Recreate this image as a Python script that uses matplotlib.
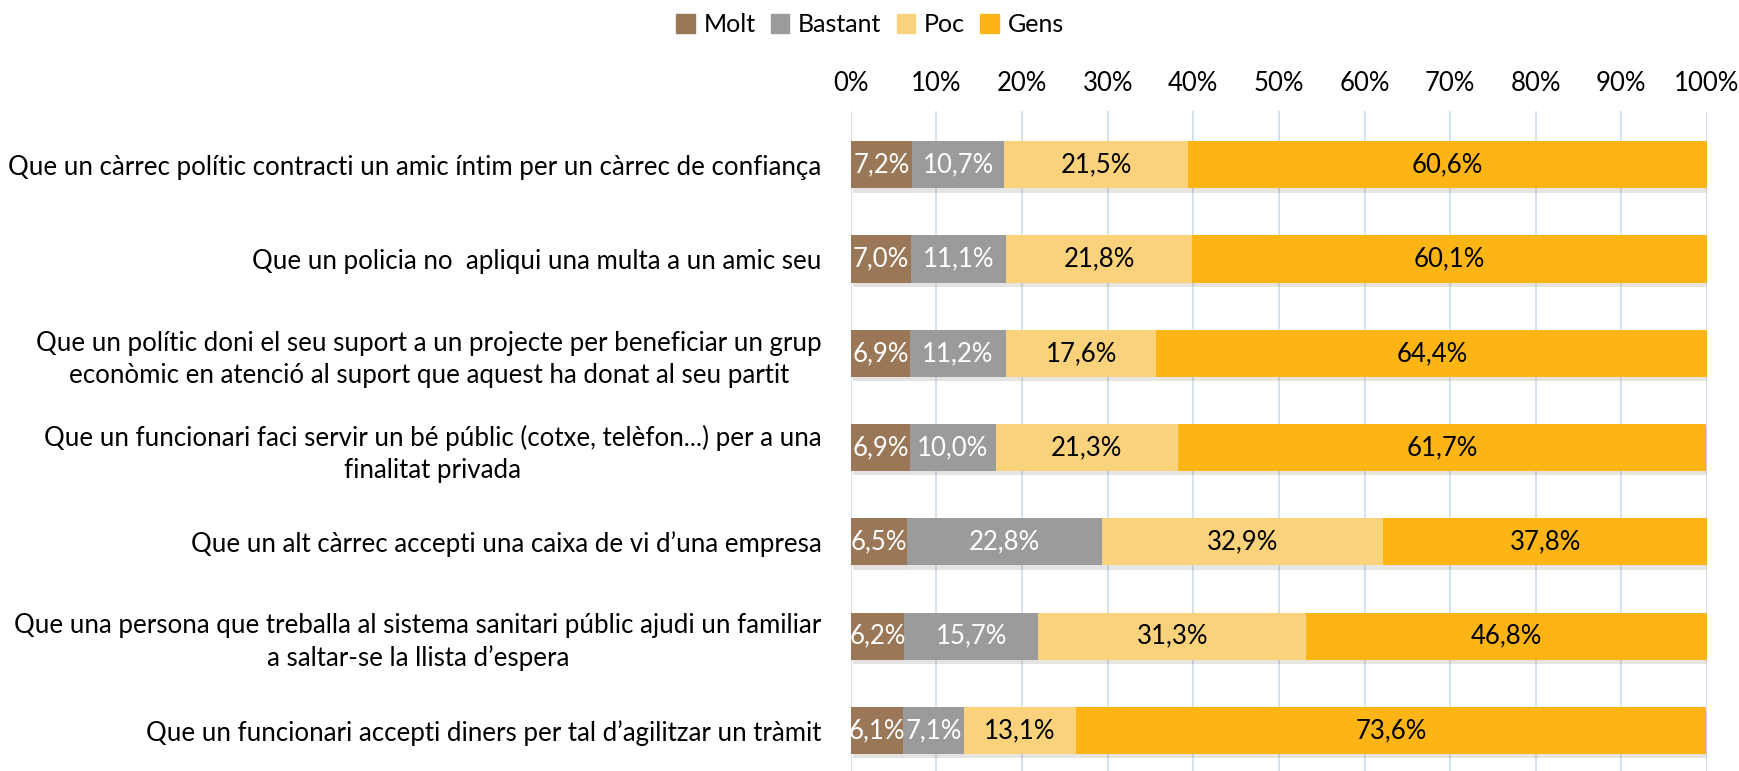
import matplotlib.pyplot as plt
import matplotlib.patheffects as pe
from matplotlib.patches import Patch
import numpy as np

plt.rcParams['font.family'] = ['Lato', 'DejaVu Sans']

# Data
categories = [
    "Que un càrrec polític contracti un amic íntim per un càrrec de confiança",
    "Que un policia no  apliqui una multa a un amic seu",
    "Que un polític doni el seu suport a un projecte per beneficiar un grup\neconòmic en atenció al suport que aquest ha donat al seu partit",
    "Que un funcionari faci servir un bé públic (cotxe, telèfon...) per a una\nfinalitat privada",
    "Que un alt càrrec accepti una caixa de vi d’una empresa",
    "Que una persona que treballa al sistema sanitari públic ajudi un familiar\na saltar-se la llista d’espera",
    "Que un funcionari accepti diners per tal d’agilitzar un tràmit",
]
series_names = ["Molt", "Bastant", "Poc", "Gens"]
molt = [7.2, 7.0, 6.9, 6.9, 6.5, 6.2, 6.1]
bastant = [10.7, 11.1, 11.2, 10.0, 22.8, 15.7, 7.1]
poc = [21.5, 21.8, 17.6, 21.3, 32.9, 31.3, 13.1]
gens = [60.6, 60.1, 64.4, 61.7, 37.8, 46.8, 73.6]

colors = ["#9A7757", "#9B9B9B", "#F9D27B", "#FDB415"]
label_colors = ["white", "white", "black", "black"]

fig = plt.figure(figsize=(17.4, 7.71), dpi=100)
ax = fig.add_axes([0.489, 0.0, 0.492, 0.856])

y = np.arange(len(categories))
left = np.zeros(len(categories))
shadow = [pe.SimplePatchShadow(offset=(1.5, -3), alpha=0.13), pe.Normal()]
for name, vals, c, lc in zip(series_names, [molt, bastant, poc, gens], colors, label_colors):
    vals = np.array(vals)
    bars = ax.barh(y, vals, left=left, height=0.5, color=c, zorder=3,
                   path_effects=shadow)
    for b, v in zip(bars, vals):
        ax.text(b.get_x() + b.get_width() / 2, b.get_y() + b.get_height() / 2,
                f"{v:.1f}%".replace(".", ","), ha="center", va="center",
                color=lc, fontsize=18.5, zorder=4)
    left += vals

ax.set_xlim(0, 100)
ax.set_ylim(len(categories) - 0.57, -0.57)
ax.set_xticks(np.arange(0, 101, 10))
ax.set_xticklabels([f"{t}%" for t in range(0, 101, 10)])
ax.xaxis.tick_top()
ax.tick_params(axis="x", length=0, pad=11, labelsize=18.5)
ax.set_yticks(y)
ax.set_yticklabels(categories, fontsize=18.6, ha="right")
for t in ax.get_yticklabels():
    t.set_multialignment("center")
    t.set_linespacing(1.35)
ax.tick_params(axis="y", length=0, pad=21)
ax.grid(axis="x", color="#D0DDEE", linewidth=1.2, zorder=0)
for s in ax.spines.values():
    s.set_visible(False)

handles = [Patch(color=c, label=n) for n, c in zip(series_names, colors)]
fig.legend(handles=handles, loc="center", bbox_to_anchor=(0.5, 0.968), ncol=4,
           frameon=False, fontsize=18, handlelength=0.75, handleheight=0.75,
           handletextpad=0.35, columnspacing=0.6)

fig.savefig("out.png", dpi=100)
